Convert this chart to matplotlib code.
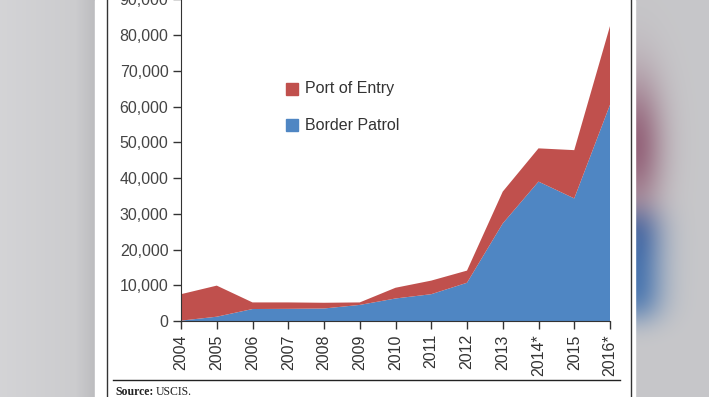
import matplotlib.pyplot as plt
import numpy as np
from matplotlib.patches import Rectangle
from matplotlib.lines import Line2D

# data
years = [2004, 2005, 2006, 2007, 2008, 2009, 2010, 2011, 2012, 2013, 2014, 2015, 2016]
year_labels = ["2004", "2005", "2006", "2007", "2008", "2009", "2010",
               "2011", "2012", "2013", "2014*", "2015", "2016*"]
border_patrol = [100, 1200, 3350, 3400, 3500, 4500, 6300, 7500, 10700, 27300, 39000, 34300, 60500]
port_of_entry = [7400, 8700, 1850, 1800, 1600, 700, 3000, 3800, 3400, 8900, 9300, 13500, 22000]
y_ticks = [0, 10000, 20000, 30000, 40000, 50000, 60000, 70000, 80000, 90000]

red = "#C0504D"
blue = "#4F86C3"
W, H = 709, 397

fig = plt.figure(figsize=(W / 100, H / 100), dpi=100)

# blurred gray background on both sides of the page
bg = fig.add_axes([0, 0, 1, 1])
bg.set_xlim(0, W)
bg.set_ylim(H, 0)
bg.axis("off")
grad = np.concatenate([np.linspace(0.83, 0.80, 75), np.linspace(0.80, 0.74, 20)]).reshape(1, -1)
bg.imshow(np.dstack([grad, grad, grad + 0.01]), extent=(0, 95, H, 0), aspect="auto")

# right edge: gray with the blurred chart colours bleeding in
xs = np.arange(74)[None, :]
ys = np.arange(H)[:, None]
gray = np.array([0.78, 0.78, 0.79])
red_blur = np.array([0.55, 0.33, 0.43])
blue_blur = np.array([0.28, 0.46, 0.69])
fade = np.exp(-(xs / 28.0) ** 2)
w_red = 0.85 * fade * np.exp(-((ys - 145) / 70.0) ** 2)
w_blue = 0.95 * fade * np.exp(-((ys - 265) / 55.0) ** 4)
total = np.maximum(w_red + w_blue, 1.0)
w_red, w_blue = w_red / total, w_blue / total
img = gray * (1 - w_red - w_blue)[..., None] + red_blur * w_red[..., None] + blue_blur * w_blue[..., None]
bg.imshow(np.clip(img, 0, 1), extent=(635, W, H, 0), aspect="auto")

bg.add_patch(Rectangle((95, 0), 540, H, color="white"))
bg.add_line(Line2D([107, 107], [0, H], color="#333333", lw=1))
bg.add_line(Line2D([631, 631], [0, H], color="#333333", lw=1))
bg.add_line(Line2D([113, 620], [380, 380], color="#222222", lw=1))
bg.text(115, 392, "Source:", fontsize=8.5, family="Liberation Serif", weight="bold",
        va="center", color="#222222")
bg.text(156, 392, "USCIS.", fontsize=8.5, family="Liberation Serif",
        va="center", color="#222222")

ax = fig.add_axes([181 / W, (H - 321) / H, (610 - 181) / W, 321.7 / H])
ax.stackplot(years, border_patrol, port_of_entry, colors=[blue, red], lw=0)
ax.set_xlim(2004, 2016)
ax.set_ylim(0, 90000)
ax.set_facecolor("none")

ax.set_xticks(years)
ax.set_xticklabels(year_labels, rotation=90, family="Liberation Sans", fontsize=11.5, color="#333333")
ax.set_yticks(y_ticks)
ax.set_yticklabels([f"{v:,}" for v in y_ticks], family="Liberation Sans", fontsize=11.5, color="#444444")
ax.tick_params(direction="out", length=6, width=1, color="#333333")
ax.tick_params(axis="y", pad=3)
for s in ["top", "right"]:
    ax.spines[s].set_visible(False)
for s in ["left", "bottom"]:
    ax.spines[s].set_color("#333333")

# legend drawn by hand like the original
bg.add_patch(Rectangle((286, 83), 12, 12, color=red))
bg.text(305, 89, "Port of Entry", fontsize=11.5, family="Liberation Sans", va="center", color="#333333")
bg.add_patch(Rectangle((286, 119), 12, 12, color=blue))
bg.text(305, 125, "Border Patrol", fontsize=11.5, family="Liberation Sans", va="center", color="#333333")

fig.savefig("out.png", dpi=100)
